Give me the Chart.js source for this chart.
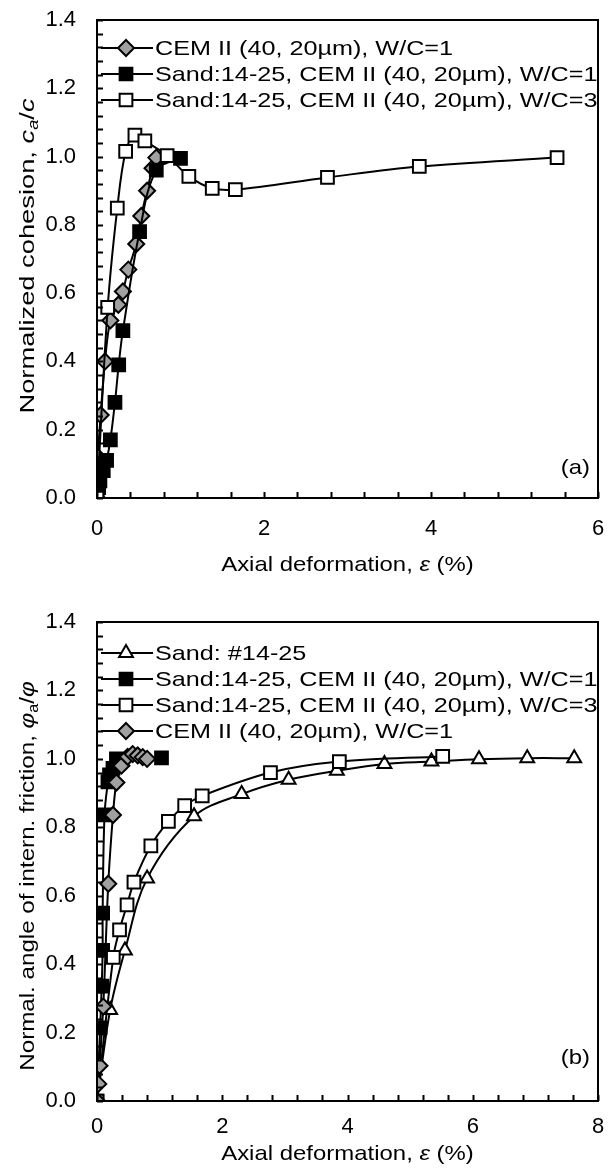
<!DOCTYPE html>
<html>
<head>
<meta charset="utf-8">
<script src="https://cdn.jsdelivr.net/npm/chart.js@4.4.0/dist/chart.umd.min.js"></script>
<style>
  html, body { margin: 0; padding: 0; background: #fff; }
  canvas { position: absolute; left: 0; }
</style>
</head>
<body>
<canvas id="chartA" width="609" height="580" style="top:0"></canvas>
<canvas id="chartB" width="609" height="589" style="top:580px"></canvas>
<script>
// (a) Normalized cohesion vs axial deformation
const cohCemX  = [0, 0.01, 0.044, 0.096, 0.16, 0.255, 0.31, 0.375, 0.47, 0.53, 0.60, 0.665, 0.71];
const cohCemY  = [0, 0.12, 0.243, 0.40, 0.52, 0.566, 0.605, 0.669, 0.744, 0.826, 0.90, 0.966, 0.997];
const cohW1X   = [0, 0.02, 0.035, 0.075, 0.115, 0.16, 0.215, 0.26, 0.31, 0.51, 0.71, 1.0];
const cohW1Y   = [0, 0.03, 0.05, 0.08, 0.11, 0.17, 0.28, 0.39, 0.49, 0.78, 0.96, 0.995];
const cohW3X   = [0, 0.128, 0.243, 0.343, 0.454, 0.573, 0.84, 1.10, 1.38, 1.657, 2.76, 3.86, 5.51];
const cohW3Y   = [0, 0.558, 0.849, 1.015, 1.063, 1.046, 1.003, 0.942, 0.907, 0.903, 0.939, 0.971, 0.997];

// (b) Normalized angle of internal friction vs axial deformation
const friSandX = [0, 0.21, 0.446, 0.80, 1.55, 2.31, 3.06, 3.83, 4.59, 5.34, 6.10, 6.87, 7.62];
const friSandY = [0, 0.266, 0.44, 0.65, 0.832, 0.897, 0.939, 0.965, 0.985, 0.992, 0.999, 1.002, 1.002];
const friW1X   = [0, 0.05, 0.075, 0.09, 0.09, 0.12, 0.175, 0.20, 0.255, 0.31, 1.03];
const friW1Y   = [0, 0.214, 0.336, 0.44, 0.549, 0.836, 0.933, 0.953, 0.972, 1.0, 1.003];
const friW3X   = [0, 0.26, 0.36, 0.48, 0.59, 0.86, 1.14, 1.40, 1.68, 2.77, 3.87, 5.52];
const friW3Y   = [0, 0.42, 0.50, 0.573, 0.64, 0.746, 0.817, 0.863, 0.892, 0.96, 0.992, 1.007];
const friCemX  = [0, 0.02, 0.04, 0.10, 0.18, 0.255, 0.31, 0.39, 0.49, 0.57, 0.65, 0.73, 0.80];
const friCemY  = [0, 0.05, 0.103, 0.276, 0.635, 0.836, 0.931, 0.98, 1.006, 1.014, 1.01, 1.005, 1.0];

const labelsA = ["CEM II (40, 20µm), W/C=1", "Sand:14-25, CEM II (40, 20µm), W/C=1", "Sand:14-25, CEM II (40, 20µm), W/C=3"];
const labelsB = ["Sand: #14-25", "Sand:14-25, CEM II (40, 20µm), W/C=1", "Sand:14-25, CEM II (40, 20µm), W/C=3", "CEM II (40, 20µm), W/C=1"];

const FONT = '"Liberation Sans", Arial, sans-serif';
const GRAY = '#a0a0a0';
const STRETCH = 1.14;   // text in the original is a little wider than plain Arial

const styles = {
  diamond: { pointStyle: 'rectRot', pointRadius: 8, fill: GRAY },
  blackSq: { pointStyle: 'rect', pointRadius: 9, fill: '#000' },
  whiteSq: { pointStyle: 'rect', pointRadius: 9, fill: '#fff' },
  triangle: { pointStyle: 'triangle', pointRadius: 8, fill: '#fff' }
};

const pts = (xs, ys) => xs.map((x, i) => ({ x: x, y: ys[i] }));

function series(label, xs, ys, st) {
  return {
    label: label,
    data: pts(xs, ys),
    showLine: true,
    tension: 0.35,
    borderColor: '#000',
    borderWidth: 2,
    pointStyle: st.pointStyle,
    pointRadius: st.pointRadius,
    pointBackgroundColor: st.fill,
    pointBorderColor: '#000',
    pointBorderWidth: 2,
    _st: st
  };
}

function marker(ctx, st, x, y) {
  const r = st.pointRadius;
  ctx.beginPath();
  if (st.pointStyle === 'rect') {
    const s = r * Math.SQRT1_2;
    ctx.rect(x - s, y - s, 2 * s, 2 * s);
  } else if (st.pointStyle === 'rectRot') {
    ctx.moveTo(x, y - r); ctx.lineTo(x + r, y); ctx.lineTo(x, y + r); ctx.lineTo(x - r, y); ctx.closePath();
  } else {
    ctx.moveTo(x, y - r);
    ctx.lineTo(x + r * Math.cos(Math.PI / 6), y + r / 2);
    ctx.lineTo(x - r * Math.cos(Math.PI / 6), y + r / 2);
    ctx.closePath();
  }
  ctx.fillStyle = st.fill;
  ctx.fill();
  ctx.lineWidth = 2;
  ctx.strokeStyle = '#000';
  ctx.stroke();
}

// rich text: parts = [{t, i (italic), s (subscript)}], drawn with a horizontal stretch
function setFont(ctx, p, size) {
  ctx.font = (p.i ? 'italic ' : '') + (p.s ? Math.round(size * 0.65) : size) + 'px ' + FONT;
}
function richText(ctx, parts, size, x, y, stretch, align) {
  let w = 0;
  parts.forEach(p => { setFont(ctx, p, size); w += ctx.measureText(p.t).width; });
  ctx.save();
  ctx.translate(x, y);
  ctx.scale(stretch, 1);
  let cx = align === 'left' ? 0 : (align === 'right' ? -w : -w / 2);
  ctx.fillStyle = '#000';
  ctx.textBaseline = 'middle';
  ctx.textAlign = 'left';
  parts.forEach(p => {
    setFont(ctx, p, size);
    ctx.fillText(p.t, cx, p.s ? size * 0.3 : 0);
    cx += ctx.measureText(p.t).width;
  });
  ctx.restore();
}

function decor(cfg) {
  return {
    id: 'decor',
    afterDatasetsDraw(chart) {
      const ctx = chart.ctx;
      const a = chart.chartArea;
      const xs = chart.scales.x, ys = chart.scales.y;
      ctx.save();
      // frame
      ctx.strokeStyle = '#000';
      ctx.lineWidth = 2;
      ctx.strokeRect(a.left, a.top, a.right - a.left, a.bottom - a.top);
      // inward tick marks
      ctx.beginPath();
      for (let i = 0; i <= cfg.yMinorCount; i++) {
        const py = Math.round(ys.getPixelForValue(i * cfg.yMinor)) + 0.5;
        ctx.moveTo(a.left, py); ctx.lineTo(a.left + 6, py);
      }
      for (let i = 0; i <= cfg.xMinorCount; i++) {
        const px = Math.round(xs.getPixelForValue(i * cfg.xMinor)) + 0.5;
        ctx.moveTo(px, a.bottom); ctx.lineTo(px, a.bottom - 6);
      }
      ctx.stroke();
      // legend, in the original's order
      chart.data.datasets.slice().reverse().forEach((ds, i) => {
        const y = cfg.legendY + i * 26;
        ctx.beginPath();
        ctx.moveTo(a.left + 4, y); ctx.lineTo(a.left + 56, y);
        ctx.lineWidth = 2; ctx.strokeStyle = '#000'; ctx.stroke();
        marker(ctx, ds._st, a.left + 29, y);
        richText(ctx, [{ t: ds.label }], 21, a.left + 58, y + 1, 1.2, 'left');
      });
      // axis titles
      richText(ctx, cfg.xTitle, 21, (a.left + a.right) / 2, cfg.xTitleY, STRETCH, 'center');
      ctx.save();
      ctx.translate(28, cfg.yTitleMid);
      ctx.rotate(-Math.PI / 2);
      richText(ctx, cfg.yTitle, 21, 0, 0, cfg.yTitleStretch, 'center');
      ctx.restore();
      // panel tag
      richText(ctx, [{ t: cfg.tag }], 21, a.right - 8, cfg.tagY, STRETCH, 'right');
      ctx.restore();
    }
  };
}

function makeChart(id, datasets, xMax, xAxisH, padTop, tickPad, cfg) {
  return new Chart(document.getElementById(id), {
    type: 'scatter',
    data: { datasets: datasets },
    options: {
      responsive: false,
      animation: false,
      devicePixelRatio: 1,
      layout: { padding: { left: 0, right: 11, top: padTop, bottom: 0 } },
      plugins: { legend: { display: false }, tooltip: { enabled: false } },
      scales: {
        x: {
          type: 'linear', min: 0, max: xMax,
          ticks: { stepSize: 2, color: '#000', font: { family: FONT, size: 22 }, padding: tickPad, maxRotation: 0 },
          grid: { display: false, drawTicks: false },
          border: { display: false },
          afterFit(s) { s.height = xAxisH; s.paddingLeft = 0; s.paddingRight = 0; }
        },
        y: {
          min: 0, max: 1.4,
          ticks: { stepSize: 0.2, color: '#000', font: { family: FONT, size: 22 }, padding: 21,
                   callback: v => v.toFixed(1) },
          grid: { display: false, drawTicks: false },
          border: { display: false },
          afterFit(s) { s.width = 97; s.paddingTop = 0; s.paddingBottom = 0; }
        }
      }
    },
    plugins: [decor(cfg)]
  });
}

const xTitleParts = [{ t: 'Axial deformation, ' }, { t: 'ε', i: true }, { t: ' (%)' }];

// datasets listed in reverse legend order so that later series draw on top
makeChart('chartA', [
  series(labelsA[2], cohW3X, cohW3Y, styles.whiteSq),
  series(labelsA[1], cohW1X, cohW1Y, styles.blackSq),
  series(labelsA[0], cohCemX, cohCemY, styles.diamond)
], 6, 82, 20, 18, {
  yMinor: 0.04, yMinorCount: 35, xMinor: 0.4, xMinorCount: 15,
  legendY: 48, xTitle: xTitleParts, xTitleY: 565,
  yTitle: [{ t: 'Normalized cohesion, ' }, { t: 'c', i: true }, { t: 'a', i: true, s: true }, { t: '/' }, { t: 'c', i: true }],
  yTitleMid: 256, yTitleStretch: 1.3,
  tag: '(a)', tagY: 468
});

makeChart('chartB', [
  series(labelsB[3], friCemX, friCemY, styles.diamond),
  series(labelsB[2], friW3X, friW3Y, styles.whiteSq),
  series(labelsB[1], friW1X, friW1Y, styles.blackSq),
  series(labelsB[0], friSandX, friSandY, styles.triangle)
], 8, 68, 42, 13, {
  yMinor: 0.04, yMinorCount: 35, xMinor: 0.4, xMinorCount: 20,
  legendY: 73, xTitle: xTitleParts, xTitleY: 574,
  yTitle: [{ t: 'Normal. angle of intern. friction, ' }, { t: 'φ', i: true }, { t: 'a', s: true }, { t: '/' }, { t: 'φ', i: true }],
  yTitleMid: 296, yTitleStretch: 1.15,
  tag: '(b)', tagY: 478
});
</script>
</body>
</html>
